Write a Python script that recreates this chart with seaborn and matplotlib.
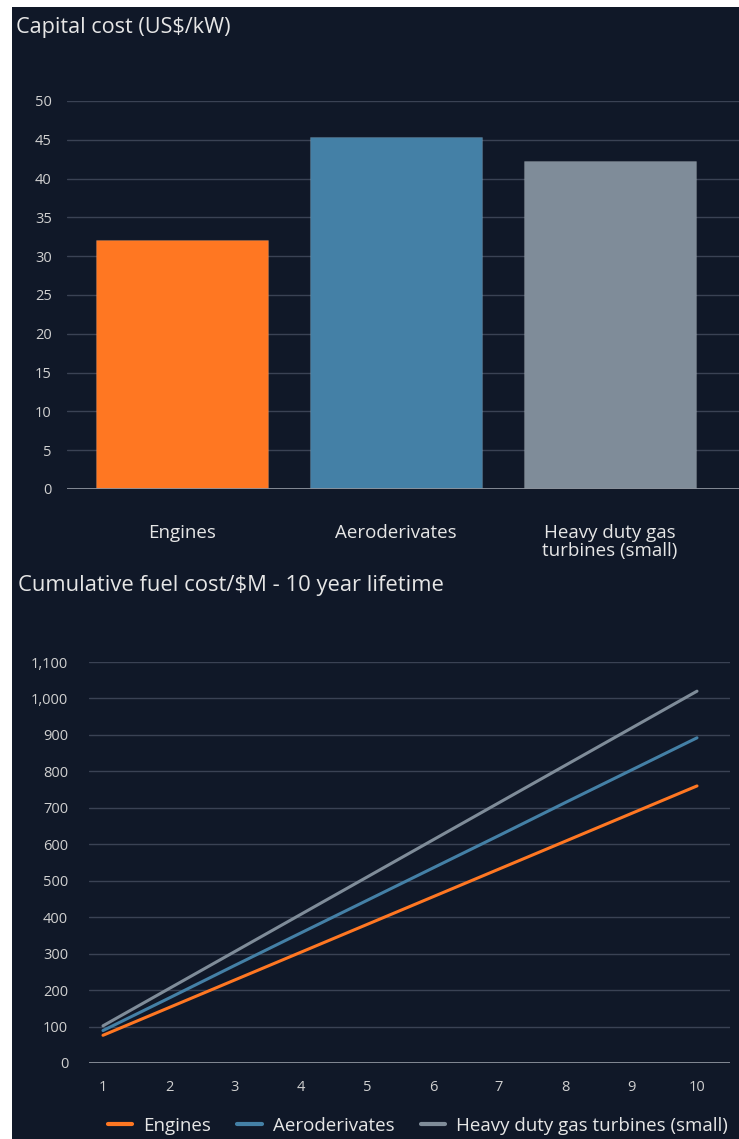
import matplotlib
matplotlib.use("Agg")
import matplotlib.pyplot as plt
import matplotlib.patches as mpatches
from matplotlib.lines import Line2D
from matplotlib.ticker import FuncFormatter
import seaborn as sns
import pandas as pd

# ---- data ----
technologies = ["Engines", "Aeroderivates", "Heavy duty gas turbines (small)"]
bar_labels = ["Engines", "Aeroderivates", "Heavy duty gas\nturbines (small)"]
capital_cost = [32.1, 45.4, 42.3]

years = [1, 2, 3, 4, 5, 6, 7, 8, 9, 10]
fuel_engines = [76, 152, 228, 304, 380, 456, 532, 608, 684, 760]
fuel_aero = [89, 178, 268, 357, 446, 535, 624, 714, 803, 892]
fuel_heavy = [102, 204, 306, 408, 510, 612, 714, 816, 918, 1020]

colors = ["#ff7722", "#4480a6", "#7f8c99"]
BG = "#101828"
GRID = "#3a4254"
ZERO = "#8c929c"
TXT = "#e6e6e6"
TICK = "#d0d0d0"

sns.set_theme(style="dark")
plt.rcParams["font.family"] = ["Open Sans", "DejaVu Sans"]

W, H = 739, 1139
fig = plt.figure(figsize=(W / 100, H / 100), dpi=100, facecolor="white")
fig.patches.append(mpatches.Rectangle((12 / W, 0), 1 - 12 / W, 1 - 7 / H,
                                      transform=fig.transFigure,
                                      facecolor=BG, edgecolor="none", zorder=-10))


def box(x0, y0, x1, y1):
    return [x0 / W, 1 - y1 / H, (x1 - x0) / W, (y1 - y0) / H]


# ---- capital cost bars ----
ax1 = fig.add_axes(box(67, 101, 739, 489))
ax1.set_facecolor(BG)
sns.barplot(x=bar_labels, y=capital_cost, hue=bar_labels, palette=colors,
            legend=False, width=0.8, saturation=1, ax=ax1, zorder=3,
            edgecolor=(1, 1, 1, 0.12), linewidth=0.8)
ax1.set_ylim(0, 50)
ax1.set_xlim(-0.537, 2.603)
ax1.set_yticks(range(0, 51, 5))
ax1.grid(axis="y", color=GRID, linewidth=1.0, zorder=0)
ax1.grid(axis="x", visible=False)
for s in ax1.spines.values():
    s.set_visible(False)
ax1.axhline(0, color=ZERO, linewidth=1.3, zorder=4)
ax1.tick_params(axis="y", length=0, pad=11, labelsize=10.5, labelcolor=TICK)
ax1.tick_params(axis="x", length=0, pad=25, labelsize=13.5, labelcolor=TXT)
for lab in ax1.get_xticklabels():
    lab.set_verticalalignment("top")
    lab.set_linespacing(1.05)
ax1.set_xlabel("")
ax1.set_ylabel("")
fig.text(16 / W, 1 - 28 / H, "Capital cost (US$/kW)", color=TXT,
         fontsize=15.6, va="center", ha="left")

# ---- cumulative fuel cost lines ----
fuel = pd.DataFrame({
    "year": years * 3,
    "cost": fuel_engines + fuel_aero + fuel_heavy,
    "technology": [technologies[0]] * 10 + [technologies[1]] * 10 + [technologies[2]] * 10,
})

ax2 = fig.add_axes(box(89, 662, 730, 1063))
ax2.set_facecolor(BG)
sns.lineplot(data=fuel, x="year", y="cost", hue="technology",
             hue_order=technologies, palette=colors, linewidth=2.2,
             legend=False, ax=ax2, zorder=3)
ax2.set_ylim(0, 1100)
ax2.set_xlim(0.788, 10.5)
ax2.set_yticks(range(0, 1101, 100))
ax2.set_xticks(years)
ax2.yaxis.set_major_formatter(FuncFormatter(lambda v, p: f"{int(v):,}"))
ax2.grid(axis="y", color=GRID, linewidth=1.0, zorder=0)
ax2.grid(axis="x", visible=False)
for s in ax2.spines.values():
    s.set_visible(False)
ax2.axhline(0, color=ZERO, linewidth=1.3, zorder=4)
ax2.tick_params(axis="y", length=0, pad=15, labelsize=10.5, labelcolor=TICK)
ax2.tick_params(axis="x", length=0, pad=12, labelsize=10.5, labelcolor=TICK)
ax2.set_xlabel("")
ax2.set_ylabel("")
fig.text(18 / W, 1 - 585 / H, "Cumulative fuel cost/$M - 10 year lifetime",
         color=TXT, fontsize=15.8, va="center", ha="left")

handles = [Line2D([0], [0], color=c, linewidth=3) for c in colors]
leg = fig.legend(handles, technologies, loc="center",
                 bbox_to_anchor=(418 / W, 1 - 1126 / H), ncol=3,
                 frameon=False, fontsize=13.5, handlelength=1.3,
                 handletextpad=0.6, columnspacing=1.4)
for t in leg.get_texts():
    t.set_color(TXT)

fig.savefig("out.png", dpi=100, facecolor=fig.get_facecolor())
